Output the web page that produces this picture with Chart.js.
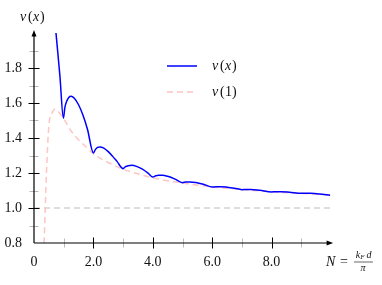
<!DOCTYPE html>
<html>
<head>
<meta charset="utf-8">
<script src="https://cdn.jsdelivr.net/npm/chart.js@4.4.1/dist/chart.umd.min.js"></script>
<style>
  html, body { margin: 0; padding: 0; background: #fff; }
  #wrap { width: 382px; height: 285px; }
</style>
</head>
<body>
<div id="wrap"><canvas id="grafico"></canvas></div>
<script>
// dati
const xNu = [0.74, 0.87, 0.99, 1.04, 1.1, 1.17, 1.25, 1.35, 1.5, 1.65, 1.8, 2.0, 2.07, 2.14, 2.22, 2.35, 2.5, 2.65, 2.8, 3.0, 3.08, 3.17, 3.3, 3.45, 3.65, 3.85, 4.0, 4.1, 4.2, 4.33, 4.5, 4.75, 5.0, 5.1, 5.25, 5.45, 5.7, 6.0, 6.12, 6.27, 6.5, 6.75, 7.0, 7.15, 7.3, 7.6, 8.0, 8.15, 8.3, 8.6, 9.0, 9.15, 9.3, 9.6, 9.97];
const yNu = [2.0, 1.76, 1.513, 1.575, 1.61, 1.632, 1.638, 1.628, 1.59, 1.53, 1.45, 1.315, 1.335, 1.346, 1.349, 1.342, 1.322, 1.295, 1.265, 1.225, 1.236, 1.242, 1.244, 1.238, 1.222, 1.198, 1.177, 1.184, 1.187, 1.187, 1.181, 1.165, 1.145, 1.148, 1.149, 1.146, 1.136, 1.12, 1.121, 1.122, 1.119, 1.113, 1.105, 1.106, 1.106, 1.101, 1.092, 1.093, 1.093, 1.09, 1.084, 1.085, 1.084, 1.08, 1.073];
const xNu1 = [0.34, 0.42, 0.5, 0.6, 0.7, 0.8, 1.0, 1.25, 1.5, 1.75, 2.0, 2.5, 3.0, 3.5, 4.0, 5.0, 6.0, 7.0, 8.0, 9.0, 9.97];
const yNu1 = [0.8, 1.2, 1.47, 1.54, 1.565, 1.555, 1.51, 1.44, 1.39, 1.35, 1.31, 1.26, 1.222, 1.195, 1.172, 1.143, 1.12, 1.105, 1.093, 1.083, 1.074];
const xRif = [0, 9.97];
const yRif = [1.0, 1.0];
const etichetteY = { '0.8': '0.8', '1.0': '1.0', '1.2': '1.2', '1.4': '1.4', '1.6': '1.6', '1.8': '1.8' };
const etichetteX = { '0': '0', '2': '2.0', '4': '4.0', '6': '6.0', '8': '8.0' };

const serif = '"Liberation Serif", "DejaVu Serif", serif';

function punti(xs, ys) {
  const out = [];
  for (let i = 0; i < xs.length; i++) out.push({ x: xs[i], y: ys[i] });
  return out;
}

// assi con frecce, tacche, legenda e titoli
const assi = {
  id: 'assi',
  afterDraw(chart) {
    const ctx = chart.ctx;
    const sx = chart.scales.x, sy = chart.scales.y;
    const x0 = sx.getPixelForValue(0), y0 = sy.getPixelForValue(0.8);
    const xEnd = sx.getPixelForValue(9.97), yTop = sy.getPixelForValue(2.0);
    ctx.save();
    // tacche y
    sy.ticks.forEach(t => {
      const v = Math.round(t.value * 10) / 10;
      if (v <= 0.8 || v >= 1.95) return;
      const p = sy.getPixelForValue(t.value);
      const maj = etichetteY[v.toFixed(1)] !== undefined;
      ctx.strokeStyle = maj ? '#000' : '#bbb';
      ctx.lineWidth = 1;
      const l = maj ? 5.5 : 4.5;
      ctx.beginPath(); ctx.moveTo(x0 - l, Math.round(p) + 0.5); ctx.lineTo(x0 + l, Math.round(p) + 0.5); ctx.stroke();
    });
    // tacche x
    sx.ticks.forEach(t => {
      const v = Math.round(t.value);
      if (v <= 0 || v >= 10) return;
      const p = sx.getPixelForValue(t.value);
      const maj = etichetteX[String(v)] !== undefined;
      ctx.strokeStyle = maj ? '#000' : '#bbb';
      const l = maj ? 5.5 : 4.5;
      ctx.beginPath(); ctx.moveTo(Math.round(p) + 0.5, y0 - l); ctx.lineTo(Math.round(p) + 0.5, y0 + l); ctx.stroke();
    });
    // linee assi
    ctx.strokeStyle = '#000';
    ctx.lineWidth = 1.2;
    ctx.beginPath(); ctx.moveTo(x0, y0); ctx.lineTo(x0, yTop + 2); ctx.stroke();
    ctx.beginPath(); ctx.moveTo(x0, y0); ctx.lineTo(xEnd - 2, y0); ctx.stroke();
    ctx.fillStyle = '#000';
    ctx.beginPath(); ctx.moveTo(x0, yTop - 3); ctx.lineTo(x0 - 2.5, yTop + 3.5); ctx.lineTo(x0 + 2.5, yTop + 3.5); ctx.closePath(); ctx.fill();
    ctx.beginPath(); ctx.moveTo(xEnd + 3, y0); ctx.lineTo(xEnd - 3.5, y0 - 2.5); ctx.lineTo(xEnd - 3.5, y0 + 2.5); ctx.closePath(); ctx.fill();
    // titolo asse y
    ctx.fillStyle = '#111';
    ctx.textBaseline = 'middle';
    ctx.textAlign = 'left';
    ctx.font = 'italic 14px ' + serif;
    ctx.fillText('\u03bd', 20, 17);
    ctx.font = '14px ' + serif;
    ctx.fillText('(', 28, 17);
    ctx.font = 'italic 14px ' + serif;
    ctx.fillText('x', 33, 17);
    ctx.font = '14px ' + serif;
    ctx.fillText(')', 40, 17);
    // titolo asse x
    ctx.font = 'italic 14px ' + serif;
    ctx.fillText('N', 326, 262);
    ctx.font = '14px ' + serif;
    ctx.fillText('=', 340, 262);
    ctx.font = 'italic 10px ' + serif;
    ctx.textAlign = 'center';
    ctx.fillText('k', 358, 255);
    ctx.font = 'italic 7px ' + serif;
    ctx.fillText('F', 362.5, 257);
    ctx.font = 'italic 10px ' + serif;
    ctx.fillText('d', 369, 255);
    ctx.fillText('\u03c0', 363, 268.5);
    ctx.lineWidth = 0.6;
    ctx.beginPath(); ctx.moveTo(354, 262); ctx.lineTo(373, 262); ctx.stroke();
    // legenda
    const voci = [
      { ds: chart.data.datasets[0], y: 66, t: 'x' },
      { ds: chart.data.datasets[1], y: 92, t: '1' }
    ];
    voci.forEach(v => {
      ctx.strokeStyle = v.ds.borderColor;
      ctx.lineWidth = v.ds.borderWidth;
      ctx.setLineDash(v.ds.borderDash || []);
      ctx.beginPath(); ctx.moveTo(167, v.y); ctx.lineTo(197, v.y); ctx.stroke();
      ctx.setLineDash([]);
      ctx.textAlign = 'left';
      ctx.fillStyle = '#111';
      ctx.font = 'italic 14px ' + serif;
      ctx.fillText('\u03bd', 212, v.y);
      ctx.font = '14px ' + serif;
      ctx.fillText('(', 220, v.y);
      ctx.font = (v.t === 'x' ? 'italic ' : '') + '14px ' + serif;
      ctx.fillText(v.t, 225, v.y);
      ctx.font = '14px ' + serif;
      ctx.fillText(')', 232, v.y);
    });
    ctx.restore();
  }
};

new Chart(document.getElementById('grafico'), {
  type: 'scatter',
  data: {
    datasets: [{
      label: '\u03bd(x)',
      data: punti(xNu, yNu),
      showLine: true,
      borderColor: '#0000ff',
      borderWidth: 1.5,
      pointRadius: 0,
      cubicInterpolationMode: 'monotone'
    }, {
      label: '\u03bd(1)',
      data: punti(xNu1, yNu1),
      showLine: true,
      borderColor: '#ffc4c4',
      borderWidth: 1.5,
      borderDash: [6, 4],
      pointRadius: 0,
      cubicInterpolationMode: 'monotone'
    }, {
      label: 'rif',
      data: punti(xRif, yRif),
      showLine: true,
      borderColor: '#bdbdbd',
      borderWidth: 1,
      borderDash: [6, 4],
      pointRadius: 0
    }]
  },
  options: {
    responsive: true,
    maintainAspectRatio: false,
    animation: false,
    layout: { padding: { top: 33, right: 51, left: 0, bottom: 0 } },
    plugins: { legend: { display: false }, tooltip: { enabled: false } },
    scales: {
      x: {
        type: 'linear',
        min: 0,
        max: 10,
        grid: { display: false, drawTicks: false },
        border: { display: false },
        afterFit(s) { s.height = 42; },
        ticks: {
          stepSize: 1,
          padding: 11,
          color: '#111',
          maxRotation: 0,
          autoSkip: false,
          font: { family: serif, size: 14 },
          callback: v => etichetteX[String(Math.round(v))] || ''
        }
      },
      y: {
        type: 'linear',
        min: 0.8,
        max: 2.0,
        grid: { display: false, drawTicks: false },
        border: { display: false },
        afterFit(s) { s.width = 34; },
        ticks: {
          stepSize: 0.1,
          padding: 12,
          color: '#111',
          autoSkip: false,
          font: { family: serif, size: 14 },
          callback: v => etichetteY[(Math.round(v * 10) / 10).toFixed(1)] || ''
        }
      }
    }
  },
  plugins: [assi]
});
</script>
</body>
</html>
